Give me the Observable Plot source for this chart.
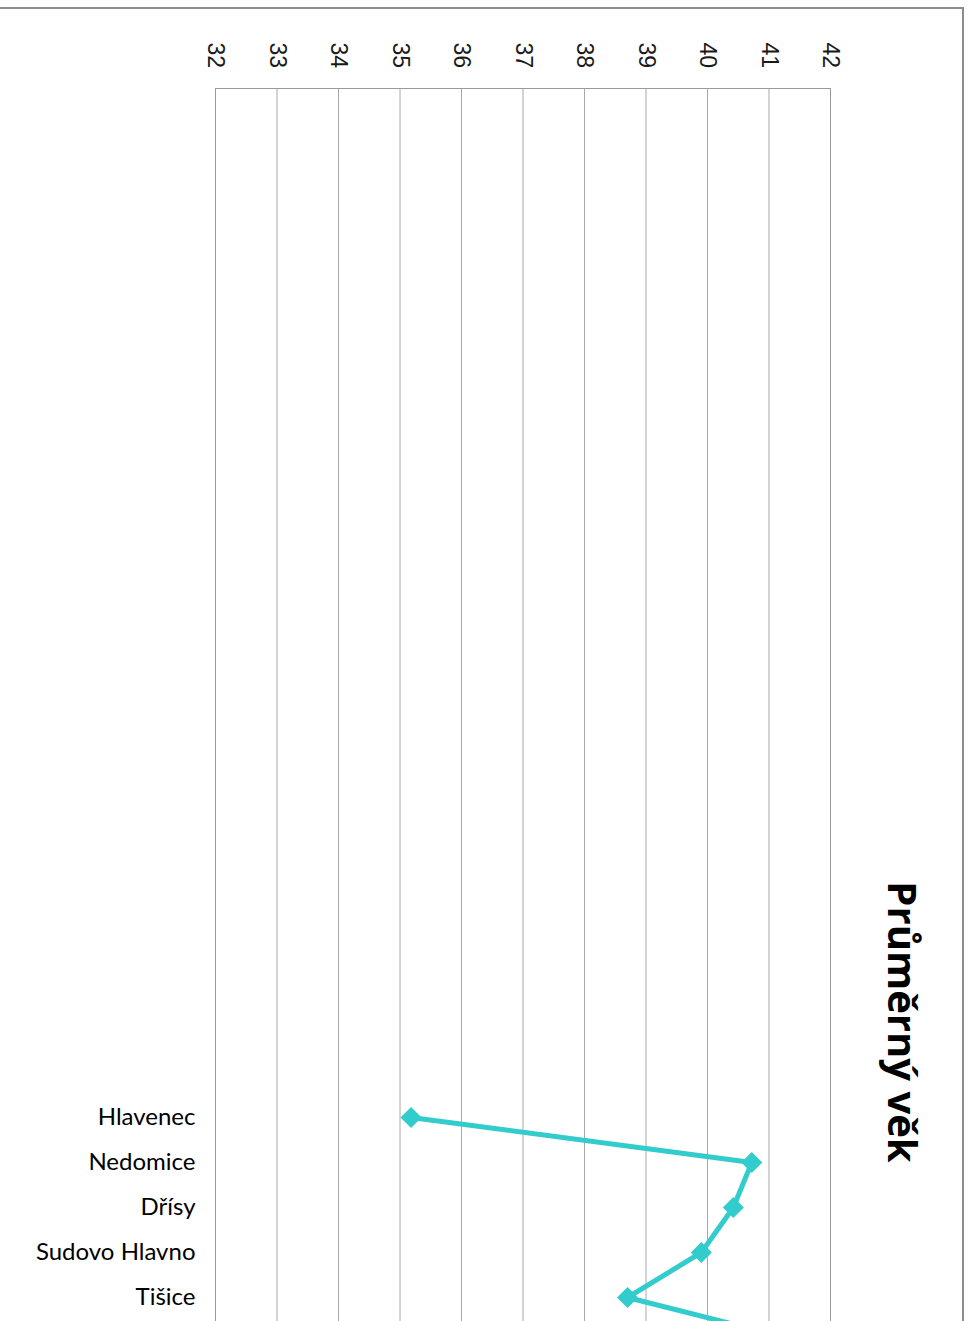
<!DOCTYPE html>
<html><head><meta charset="utf-8">
<script src="https://cdn.jsdelivr.net/npm/d3@7"></script>
<script src="https://cdn.jsdelivr.net/npm/@observablehq/plot@0.6"></script>
<style>
html,body{margin:0;padding:0;background:#fff;}
#wrap{position:relative;width:976px;height:1321px;overflow:hidden;background:#fff;}
#chart{position:absolute;left:0;top:0;}
#border{position:absolute;left:-4px;top:7px;width:968px;height:1400px;border-top:2px solid #8c8c8c;border-right:2px solid #8c8c8c;box-sizing:border-box;}
#title{position:absolute;left:903px;top:1022px;transform:translate(-50%,-50%) rotate(90deg);font-family:"Open Sans",sans-serif;font-weight:700;font-size:40px;line-height:1;white-space:nowrap;color:#000;}
</style></head>
<body>
<div id="wrap"><div id="chart"></div><div id="border"></div><div id="title">Průměrný věk</div></div>
<script>
const categories = ["Hlavenec", "Nedomice", "Dřísy", "Sudovo Hlavno", "Tišice", "Kly"];
const values = [35.18, 40.72, 40.42, 39.9, 38.7, 41.6];
const xTicks = [32, 33, 34, 35, 36, 37, 38, 39, 40, 41, 42];
const title = "Průměrný věk";

const data = categories.map((c, i) => ({category: c, value: values[i]}));

const chart = Plot.plot({
  width: 976,
  height: 1360,
  marginLeft: 215,
  marginRight: 146,
  marginTop: 88,
  marginBottom: 0,
  style: {fontFamily: "Lato, sans-serif", fontSize: "24px", color: "#000", background: "transparent"},
  x: {domain: [32, 42], axis: null},
  y: {type: "point", domain: categories, padding: 0, range: [1115.5, 1115.5 + 5 * 45.6], axis: null, label: null},
  marks: [
    Plot.gridX(xTicks, {stroke: "#a8a8a8", strokeOpacity: 1, strokeWidth: 1}),
    Plot.frame({stroke: "#9a9a9a", strokeWidth: 1}),
    Plot.text(xTicks, {x: d => d, frameAnchor: "top", dy: -46, rotate: 90, textAnchor: "start", lineAnchor: "middle", fontSize: 23, fontFamily: "Liberation Sans, sans-serif", fill: "#1a1a1a"}),
    Plot.axisY({tickSize: 0, tickPadding: 20, fontSize: 24, fill: "#000", label: null}),
    Plot.line(data, {x: "value", y: "category", stroke: "#33cccc", strokeWidth: 5}),
    Plot.dot(data, {x: "value", y: "category", symbol: "diamond2", r: 9.5, fill: "#33cccc", stroke: "none"})
  ]
});
document.getElementById("chart").append(chart);
document.getElementById("title").textContent = title;
</script>
</body></html>
